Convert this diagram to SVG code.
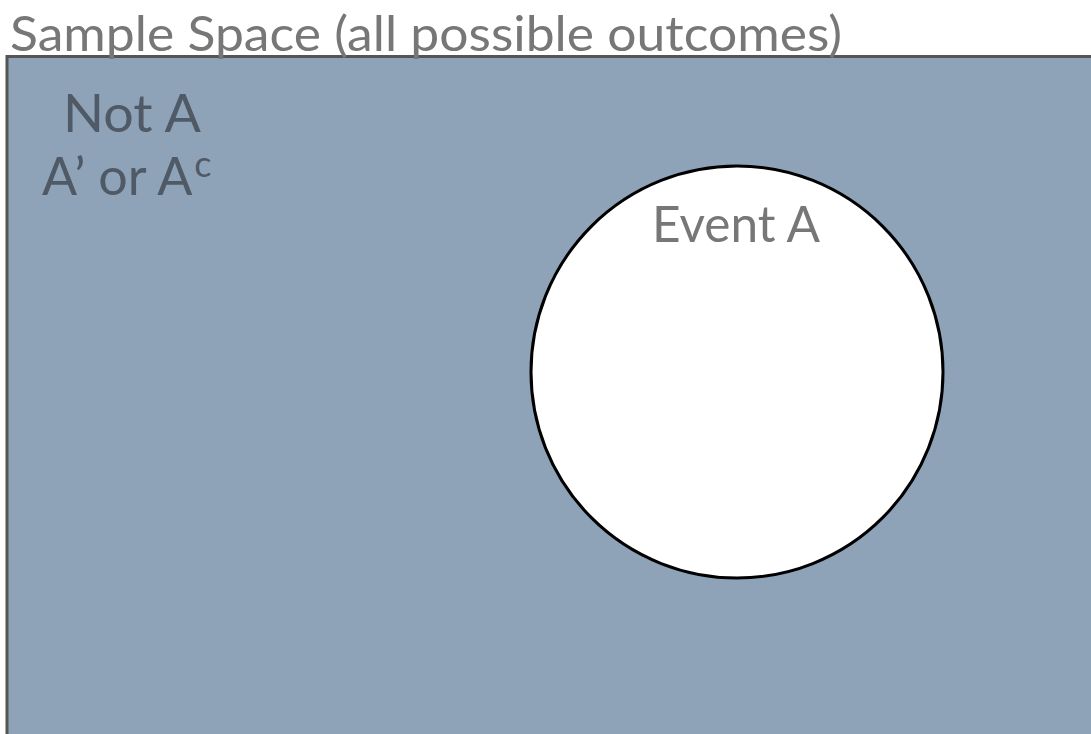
<svg xmlns="http://www.w3.org/2000/svg" width="1091" height="734" viewBox="0 0 1091 734">
<style>
.t{font-family:"Lato","Open Sans","Liberation Sans",sans-serif;}
</style>
<rect width="1091" height="734" fill="#ffffff"/>
<g id="sample-space">
<rect x="7" y="56.5" width="1100" height="700" fill="#8fa3b8" stroke="#555555" stroke-width="3"/>
<text class="t" x="10" y="51" font-size="49" fill="#777777" textLength="832" lengthAdjust="spacingAndGlyphs">Sample Space (all possible outcomes)</text>
</g>
<g id="not-a">
<text class="t" x="63" y="132" font-size="52" fill="#505a66" textLength="138" lengthAdjust="spacingAndGlyphs">Not A</text>
<text class="t" x="42" y="195" font-size="52" fill="#505a66">A’ or A<tspan font-size="36" dx="2" dy="-18">c</tspan></text>
</g>
<g id="event-a">
<circle cx="737" cy="372" r="206" fill="#ffffff" stroke="#000000" stroke-width="3"/>
<text class="t" x="652" y="242" font-size="50" fill="#777777" textLength="168" lengthAdjust="spacingAndGlyphs">Event A</text>
</g>
<g id="connectors"/>
</svg>
